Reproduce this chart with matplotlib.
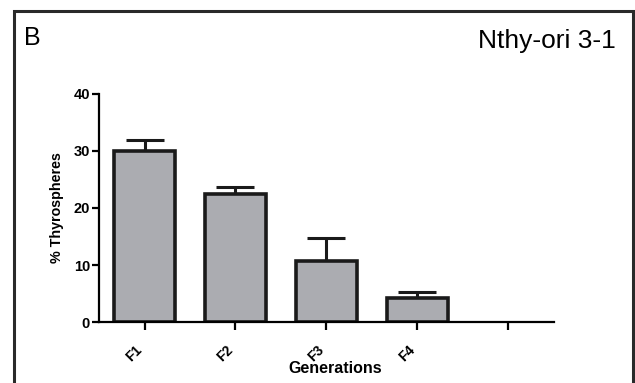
import matplotlib.pyplot as plt
import matplotlib.transforms as mtransforms
from matplotlib.patches import Rectangle

plt.rcParams['font.family'] = ['Liberation Sans', 'DejaVu Sans']

generations = ["F1", "F2", "F3", "F4", ""]
percent = [30.0, 22.5, 10.7, 4.2]
sem = [1.9, 1.2, 4.0, 1.1]

fig = plt.figure(figsize=(6.35, 3.83), dpi=100)
ax = fig.add_axes([0.156, 0.159, 0.716, 0.596])

x = list(range(len(percent)))
ax.bar(x, percent, width=0.67, color="#abacb1", edgecolor="#1a1a1a", linewidth=2.6, zorder=2)
ax.errorbar(x, percent, yerr=[[0] * len(sem), sem], fmt="none", ecolor="#1a1a1a",
            elinewidth=2.2, capsize=14, capthick=2.2, zorder=1)

ax.set_xlim(-0.5, 4.5)
ax.set_ylim(0, 40)
ax.set_yticks([0, 10, 20, 30, 40])
ax.set_xticks(range(len(generations)))
ax.set_xticklabels(generations, rotation=45, ha="right", fontsize=10, fontweight="bold")
shift = mtransforms.ScaledTranslation(3 / 100, 0, fig.dpi_scale_trans)
for lbl in ax.get_xticklabels():
    lbl.set_transform(lbl.get_transform() + shift)
for lbl in ax.get_yticklabels():
    lbl.set_fontweight("bold")
    lbl.set_fontsize(10.5)
ax.spines["top"].set_visible(False)
ax.spines["right"].set_visible(False)
ax.spines["left"].set_linewidth(1.6)
ax.spines["bottom"].set_linewidth(1.6)
ax.tick_params(axis="y", length=5, width=1.6, pad=1.5)
ax.tick_params(axis="x", length=6, width=1.6, pad=9)
ax.set_ylabel("% Thyrospheres", fontsize=10.3, fontweight="bold", labelpad=7)
ax.set_xlabel("Generations", fontsize=11.5, fontweight="bold")
ax.xaxis.set_label_coords(0.52, -0.172)

# outer panel border
fig.patches.append(Rectangle((0.022, -0.05), 0.975, 1.022, transform=fig.transFigure,
                             fill=False, edgecolor="#2a2a2a", linewidth=2.2))
fig.text(0.038, 0.902, "B", fontsize=18, va="center")
fig.text(0.969, 0.893, "Nthy-ori 3-1", fontsize=19, ha="right", va="center")

fig.savefig("out.png", dpi=100)
